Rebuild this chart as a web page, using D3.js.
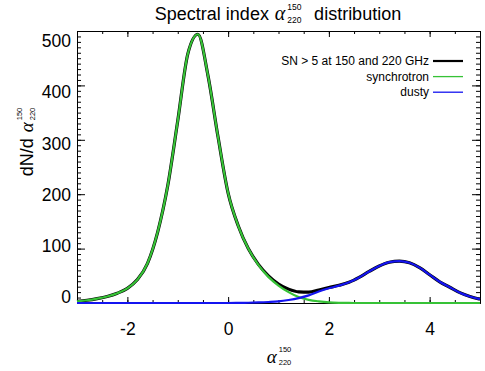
<!DOCTYPE html>
<html>
<head>
<meta charset="utf-8">
<script src="https://cdn.jsdelivr.net/npm/d3@7"></script>
<style>
  body { margin: 0; background: #fff; }
  svg { display: block; }
  text { font-family: 'Liberation Sans', Arial, Helvetica, sans-serif; fill: #000; }
</style>
</head>
<body>
<div id="chart"></div>
<script>
// spectral index grid (x values)
const alphaValues = [
  -3.0, -2.8, -2.6, -2.4, -2.2, -2.0, -1.8, -1.6, -1.4, -1.2,
  -1.0, -0.8, -0.6, -0.4, -0.2, 0.0, 0.2, 0.4, 0.6, 0.8,
  1.0, 1.2, 1.4, 1.6, 1.8, 2.0, 2.2, 2.4, 2.6, 2.8,
  3.0, 3.2, 3.4, 3.6, 3.8, 4.0, 4.2, 4.4, 4.6, 4.8, 5.0
];

const synchrotron = [
  3, 5, 8, 12, 18, 27, 43, 73, 130, 215,
  335, 458, 494, 418, 305, 202, 142, 100, 70, 48,
  32, 20, 11, 5.8, 3, 1.2, 0.4, 0.1, 0, 0,
  0, 0, 0, 0, 0, 0, 0, 0, 0, 0, 0
];

const dusty = [
  0, 0, 0, 0, 0, 0, 0, 0, 0, 0,
  0, 0, 0, 0, 0, 0, 0.2, 0.5, 1, 1.8,
  3, 5.5, 9, 14, 21, 27, 32, 38, 47, 58,
  68, 75, 77, 74, 65, 52, 39, 29, 19, 12, 7
];

const total = [
  3, 5, 8, 12, 18, 27, 43, 73, 130, 215,
  335, 458, 494, 418, 305, 202, 142, 100, 71, 50,
  35, 25.5, 20.5, 20, 24, 28.5, 32.5, 38, 47, 58,
  68, 75, 77, 74, 65, 52, 39, 29, 19, 12, 7
];

const seriesNames = ['SN > 5 at 150 and 220 GHz', 'synchrotron', 'dusty'];
const seriesColors = ['#000000', '#36c236', '#1414f0'];
const xTickValues = [-2, 0, 2, 4];
const yTickValues = [0, 100, 200, 300, 400, 500];

const width = 485;
const height = 371;
const plot = { left: 77, right: 480, top: 31, bottom: 303 };

const svg = d3.select('#chart').append('svg').attr('width', width).attr('height', height);

const x = d3.scaleLinear().domain([-3, 5]).range([plot.left, plot.right]);
const y = d3.scaleLinear().domain([0, 500]).range([plot.bottom, plot.top]);
// tick labels sit on a slightly compressed scale in the original figure
const yLabel = d3.scaleLinear().domain([0, 500]).range([297, 41]);

const xMinor = d3.range(-3, 5.001, 0.5);
const yMinor = d3.range(0, 500.001, 10);

const styleAxis = g => {
  g.selectAll('path, line').attr('stroke', '#000').attr('stroke-width', 1);
  g.selectAll('text').remove();
};

// frame + ticks, mirrored on all four sides
svg.append('g').attr('transform', `translate(0,${plot.bottom})`)
  .call(d3.axisBottom(x).tickValues(xMinor).tickSize(-3).tickSizeOuter(0)).call(styleAxis);
svg.append('g').attr('transform', `translate(0,${plot.bottom})`)
  .call(d3.axisBottom(x).tickValues(xTickValues).tickSize(-6).tickSizeOuter(0)).call(styleAxis);
svg.append('g').attr('transform', `translate(0,${plot.top})`)
  .call(d3.axisTop(x).tickValues(xMinor).tickSize(-3).tickSizeOuter(0)).call(styleAxis);
svg.append('g').attr('transform', `translate(0,${plot.top})`)
  .call(d3.axisTop(x).tickValues(xTickValues).tickSize(-6).tickSizeOuter(0)).call(styleAxis);
svg.append('g').attr('transform', `translate(${plot.left},0)`)
  .call(d3.axisLeft(y).tickValues(yMinor).tickSize(-4).tickSizeOuter(0)).call(styleAxis);
svg.append('g').attr('transform', `translate(${plot.left},0)`)
  .call(d3.axisLeft(y).tickValues(yTickValues).tickSize(-8).tickSizeOuter(0)).call(styleAxis);
svg.append('g').attr('transform', `translate(${plot.right},0)`)
  .call(d3.axisRight(y).tickValues(yMinor).tickSize(-4).tickSizeOuter(0)).call(styleAxis);
svg.append('g').attr('transform', `translate(${plot.right},0)`)
  .call(d3.axisRight(y).tickValues(yTickValues).tickSize(-8).tickSizeOuter(0)).call(styleAxis);

// tick labels (plain hyphen minus, like the original)
const xLabels = svg.append('g').attr('transform', `translate(0,${plot.bottom})`)
  .call(d3.axisBottom(x).tickValues(xTickValues).tickSize(0).tickPadding(20).tickFormat(d => String(d)));
xLabels.select('.domain').remove();
xLabels.selectAll('text').style('font-size', '17.5px').attr('font-family', null);

const yLabels = svg.append('g').attr('transform', `translate(${plot.left},0)`)
  .call(d3.axisLeft(yLabel).tickValues(yTickValues).tickSize(0).tickPadding(6).tickFormat(d => String(d)));
yLabels.select('.domain').remove();
yLabels.selectAll('text').style('font-size', '17.5px').attr('font-family', null);

// curves
const series = [total, synchrotron, dusty];
const widths = [3.2, 2.2, 2.2];
const line = d3.line()
  .x((d, i) => x(alphaValues[i]))
  .y(d => y(d))
  .curve(d3.curveMonotoneX);

svg.append('g').selectAll('path')
  .data(series)
  .join('path')
  .attr('fill', 'none')
  .attr('stroke', (d, i) => seriesColors[i])
  .attr('stroke-width', (d, i) => widths[i])
  .attr('stroke-linejoin', 'round')
  .attr('d', line);

// legend
const legend = svg.append('g');
const legendRows = legend.selectAll('g')
  .data(seriesNames)
  .join('g')
  .attr('transform', (d, i) => `translate(0,${61 + i * 15.6})`);
legendRows.append('text')
  .attr('x', 429)
  .attr('dy', '0.35em')
  .attr('text-anchor', 'end')
  .style('font-size', '12px')
  .text(d => d);
legendRows.append('line')
  .attr('x1', 433).attr('x2', 463)
  .attr('stroke', (d, i) => seriesColors[i])
  .attr('stroke-width', (d, i) => (i === 0 ? 2.2 : 1.3));

// text with an alpha carrying stacked super/subscripts
const alphaText = (parent, opts) => {
  const { pre, post, size, alphaSize, scriptSize, supDy, subDy } = opts;
  const g = parent.append('g');
  let cx = 0;
  const put = (txt, fs, dy, serif) => {
    const t = g.append('text')
      .attr('x', cx).attr('y', dy)
      .style('font-size', `${fs}px`)
      .text(txt);
    if (serif) t.style('font-family', "'Liberation Serif', 'DejaVu Serif', serif").style('font-style', 'italic');
    return t.node().getComputedTextLength();
  };
  if (pre) cx += put(pre, size, 0) + size * 0.33;
  cx += put('α', alphaSize, 0, true) + 2;
  const w1 = put('150', scriptSize, supDy);
  const w2 = put('220', scriptSize, subDy);
  cx += Math.max(w1, w2);
  if (post) {
    cx += size * 0.7;
    cx += put(post, size, 0);
  }
  return { g, w: cx };
};

// title
const title = alphaText(svg, {
  pre: 'Spectral index', post: 'distribution', size: 18, alphaSize: 20,
  scriptSize: 8.5, supDy: -10, subDy: 3
});
title.g.attr('transform', `translate(${278 - title.w / 2},20)`);

// x axis title
const xTitle = alphaText(svg, { size: 18, alphaSize: 19, scriptSize: 7.5, supDy: -11, subDy: 2 });
xTitle.g.attr('transform', `translate(${279 - xTitle.w / 2},363)`);

// y axis title
const yTitle = alphaText(svg, {
  pre: 'dN/d', size: 18, alphaSize: 19, scriptSize: 7.5, supDy: -11, subDy: 2
});
yTitle.g.attr('transform', `translate(33,142) rotate(-90) translate(${-yTitle.w / 2},0)`);
</script>
</body>
</html>
